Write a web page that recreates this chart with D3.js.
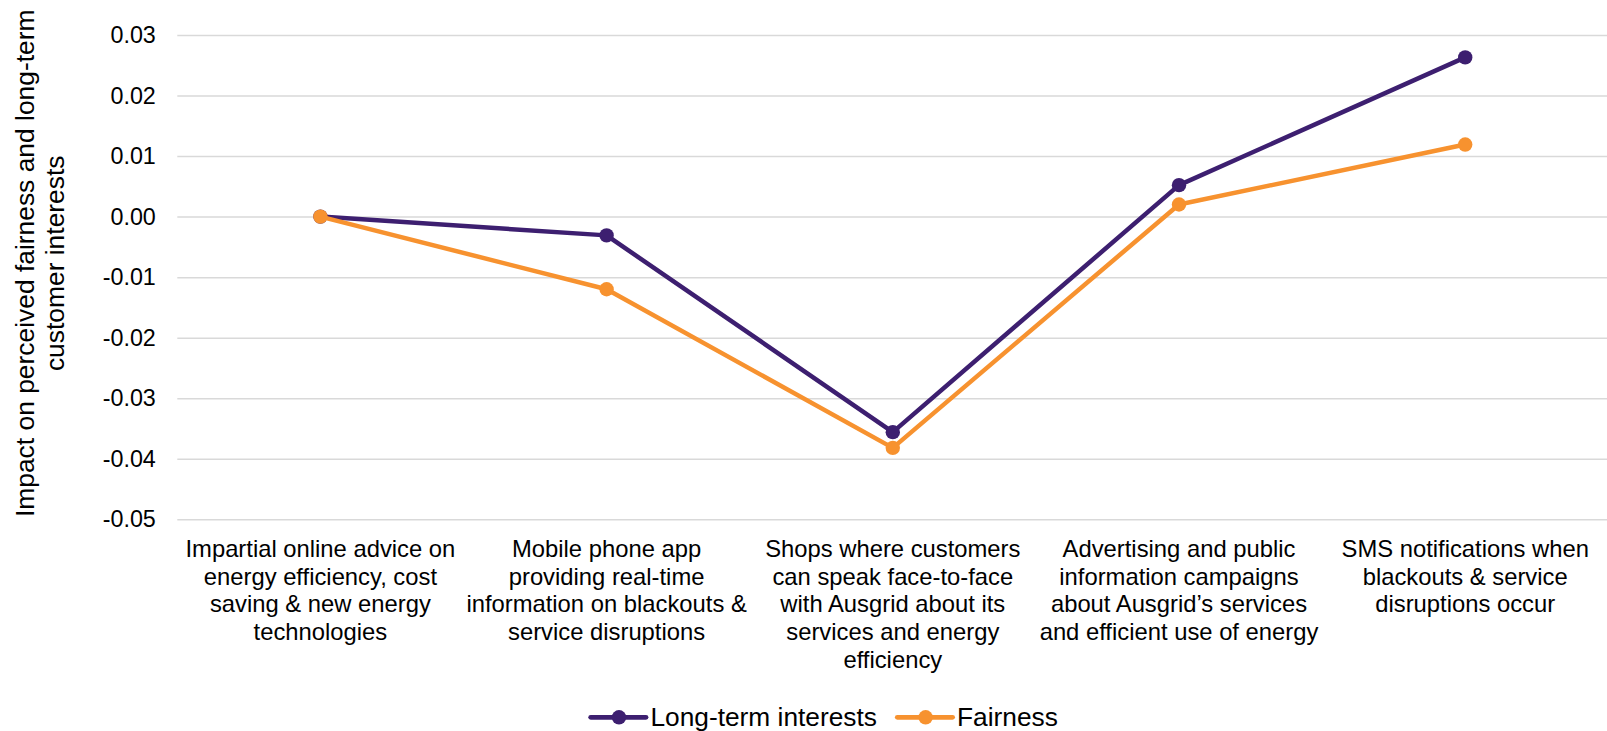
<!DOCTYPE html>
<html>
<head>
<meta charset="utf-8">
<script src="https://cdn.jsdelivr.net/npm/d3@7/dist/d3.min.js"></script>
<style>
  html, body { margin: 0; padding: 0; background: #fff; overflow: hidden; }
  svg { display: block; font-family: Arial, "Liberation Sans", sans-serif; }
</style>
</head>
<body>
<svg id="chart" width="1607" height="731"></svg>
<script>
// Category labels, already broken into lines
const categories = [
  ["Impartial online advice on", "energy efficiency, cost", "saving & new energy", "technologies"],
  ["Mobile phone app", "providing real-time", "information on blackouts &", "service disruptions"],
  ["Shops where customers", "can speak face-to-face", "with Ausgrid about its", "services and energy", "efficiency"],
  ["Advertising and public", "information campaigns", "about Ausgrid\u2019s services", "and efficient use of energy"],
  ["SMS notifications when", "blackouts & service", "disruptions occur"]
];

const longTermInterests = [0.0000, -0.0031, -0.0356, 0.0052, 0.0263];
const fairness = [0.0000, -0.0120, -0.0382, 0.0020, 0.0119];

const yTicks = [0.03, 0.02, 0.01, 0.00, -0.01, -0.02, -0.03, -0.04, -0.05];

const seriesNames = ["Long-term interests", "Fairness"];
const seriesColors = ["#3d1f70", "#f7922f"];

const yTitleLines = ["Impact on perceived fairness and long-term", "customer interests"];

const series = [
  { name: seriesNames[0], color: seriesColors[0], values: longTermInterests },
  { name: seriesNames[1], color: seriesColors[1], values: fairness }
];

const svg = d3.select("#chart");
const plot = { left: 177.3, right: 1608.3, top: 35, bottom: 519.3 };

const x = d3.scaleBand()
  .domain(d3.range(categories.length))
  .range([plot.left, plot.right])
  .paddingInner(0).paddingOuter(0);
const cx = i => x(i) + x.bandwidth() / 2;

const y = d3.scaleLinear()
  .domain([-0.05, 0.03])
  .range([plot.bottom, plot.top]);

// Horizontal gridlines + tick labels (plain hyphen for negatives)
const yAxis = d3.axisLeft(y)
  .tickValues(yTicks)
  .tickFormat(d => (Math.abs(d) < 1e-9 ? 0 : d).toFixed(2))
  .tickSize(-(plot.right - plot.left))
  .tickPadding(21.5);

const gy = svg.append("g")
  .attr("transform", `translate(${plot.left},0)`)
  .call(yAxis);
gy.select(".domain").remove();
gy.selectAll(".tick line")
  .attr("stroke", "#d9d9d9")
  .attr("stroke-width", 1.5);
gy.selectAll(".tick text")
  .attr("fill", "#000")
  .style("font-size", "23.3px")
  .attr("font-family", "Arial, 'Liberation Sans', sans-serif");

// Category labels beneath the plot
const catG = svg.append("g");
categories.forEach((lines, i) => {
  const t = catG.append("text")
    .attr("text-anchor", "middle")
    .attr("font-size", 23.8)
    .attr("fill", "#000");
  lines.forEach((ln, j) => {
    t.append("tspan")
      .attr("x", cx(i))
      .attr("y", 556.7 + j * 27.8)
      .text(ln);
  });
});

// Y axis title (two rotated lines)
const yTitle = svg.append("text")
  .attr("transform", "translate(0,263.3) rotate(-90)")
  .attr("text-anchor", "middle")
  .attr("font-size", 26.4)
  .attr("fill", "#000");
yTitleLines.forEach((ln, j) => {
  yTitle.append("tspan")
    .attr("x", 0)
    .attr("y", 33.5 + j * 30.4)
    .text(ln);
});

// Series lines and markers
const line = d3.line()
  .x((d, i) => cx(i))
  .y(d => y(d));

series.forEach(s => {
  svg.append("path")
    .datum(s.values)
    .attr("fill", "none")
    .attr("stroke", s.color)
    .attr("stroke-width", 4.5)
    .attr("stroke-linejoin", "round")
    .attr("d", line);
  svg.append("g")
    .selectAll("circle")
    .data(s.values)
    .join("circle")
    .attr("cx", (d, i) => cx(i))
    .attr("cy", d => y(d))
    .attr("r", 7.2)
    .attr("fill", s.color);
});

// Legend
const legendItems = [
  { x0: 590.7, name: seriesNames[0], color: seriesColors[0] },
  { x0: 897.3, name: seriesNames[1], color: seriesColors[1] }
];
const legendY = 717.3;
const lg = svg.append("g");
legendItems.forEach(it => {
  lg.append("line")
    .attr("x1", it.x0).attr("x2", it.x0 + 55.3)
    .attr("y1", legendY).attr("y2", legendY)
    .attr("stroke", it.color)
    .attr("stroke-width", 4.8)
    .attr("stroke-linecap", "round");
  lg.append("circle")
    .attr("cx", it.x0 + 28.3).attr("cy", legendY)
    .attr("r", 7.2)
    .attr("fill", it.color);
  lg.append("text")
    .attr("x", it.x0 + 59.7)
    .attr("y", 725.5)
    .attr("font-size", 26.3)
    .attr("fill", "#000")
    .text(it.name);
});
</script>
</body>
</html>
